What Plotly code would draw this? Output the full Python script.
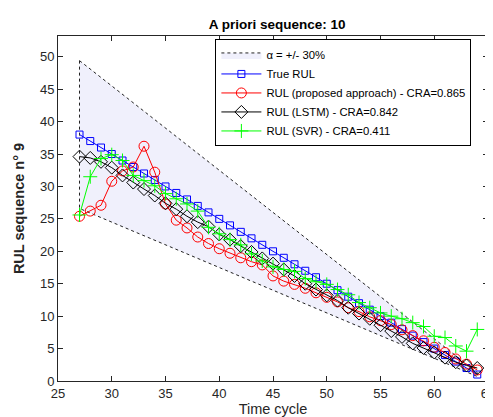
"""RUL prediction comparison for a priori sequence 10."""

import plotly.graph_objects as go

cycles = [27, 28, 29, 30, 31, 32, 33, 34, 35, 36, 37, 38, 39, 40, 41, 42, 43, 44, 45,
          46, 47, 48, 49, 50, 51, 52, 53, 54, 55, 56, 57, 58, 59, 60, 61, 62, 63, 64]

true_rul = [38, 37, 36, 35, 34, 33, 32, 31, 30, 29, 28, 27, 26, 25, 24, 23, 22, 21, 20,
            19, 18, 17, 16, 15, 14, 13, 12, 11, 10, 9, 8, 7, 6, 5, 4, 3, 2, 1]

rul_proposed = [25.4, 26.2, 27.1, 30.8, 32.4, 33.0, 36.2, 32.2, 27.3, 24.8, 23.6, 22.2, 21.2,
                20.4, 19.7, 19.0, 18.4, 17.9, 16.2, 15.4, 14.9, 14.3, 13.6, 12.9, 12.2, 11.3,
                10.7, 9.9, 9.3, 8.7, 7.9, 7.0, 6.2, 5.2, 4.4, 3.4, 2.6, 1.7]

rul_lstm = [34.6, 34.4, 33.8, 32.9, 31.7, 30.6, 29.6, 28.6, 27.4, 26.5, 25.4, 24.5, 23.8,
            22.6, 21.8, 20.8, 19.9, 18.9, 18.1, 17.2, 16.2, 15.0, 14.1, 13.2, 12.4, 11.3,
            10.4, 9.6, 8.6, 7.7, 6.8, 5.8, 5.1, 4.4, 3.6, 2.9, 2.4, 2.0]

rul_svr = [25.6, 31.5, 34.3, 34.9, 34.0, 31.7, 30.9, 30.1, 28.9, 28.1, 27.3, 26.2, 23.7,
           22.7, 21.8, 21.0, 19.6, 18.5, 17.6, 17.2, 16.9, 15.8, 15.3, 14.9, 14.1, 13.3,
           12.1, 11.3, 10.5, 10.0, 9.6, 9.0, 8.4, 6.9, 6.7, 5.4, 4.6, 7.95]

alpha = 0.3
series_names = [
    "True RUL",
    "RUL (proposed approach) - CRA=0.865",
    "RUL (LSTM) - CRA=0.842",
    "RUL (SVR) - CRA=0.411",
]

# alpha band polygon: upper edge forward, lower edge back
upper = [(1 + alpha) * v for v in true_rul]
lower = [(1 - alpha) * v for v in true_rul]
band_x = cycles + cycles[::-1] + [cycles[0]]
band_y = upper + lower[::-1] + [upper[0]]

FONT = "Liberation Sans, Arial, sans-serif"
AXIS_COLOR = "#262626"

fig = go.Figure()
fig.add_trace(go.Scatter(
    x=band_x, y=band_y, mode="lines", fill="toself",
    fillcolor="#f0f0fc", line=dict(color="#222222", width=1, dash="dot"),
    name="\u03b1 = +/- 30%",
))

styles = [
    dict(color="#0000ff", symbol="square-open", size=7),
    dict(color="#ff0000", symbol="circle-open", size=10),
    dict(color="#000000", symbol="diamond-open", size=10),
    dict(color="#00ff00", symbol="cross-thin-open", size=10),
]
for name, values, st in zip(series_names, [true_rul, rul_proposed, rul_lstm, rul_svr], styles):
    fig.add_trace(go.Scatter(
        x=cycles, y=values, mode="lines+markers", name=name,
        line=dict(color=st["color"], width=1),
        marker=dict(symbol=st["symbol"], size=st["size"], color=st["color"],
                    line=dict(color=st["color"], width=1)),
    ))

axis_common = dict(
    showgrid=False, zeroline=False, showline=True, linecolor=AXIS_COLOR, linewidth=1,
    mirror="ticks", ticks="inside", ticklen=5, tickcolor=AXIS_COLOR,
    tickfont=dict(family=FONT, size=13, color=AXIS_COLOR),
)

fig.update_layout(
    width=493, height=417,
    margin=dict(l=50, r=6, t=28, b=44),
    paper_bgcolor="white", plot_bgcolor="white",
    font=dict(family=FONT, color=AXIS_COLOR),
    title=dict(text="<b>A priori sequence: 10</b>", x=0.546, xanchor="center",
               y=0.962, yanchor="middle", font=dict(family=FONT, size=13.5, color="black")),
    xaxis=dict(range=[25, 65], dtick=5, tick0=25, ticklabeloverflow="allow",
               title=dict(text="Time cycle", standoff=0,
                          font=dict(family=FONT, size=14.5, color=AXIS_COLOR)),
               **axis_common),
    yaxis=dict(range=[0, 53.2], dtick=5, tick0=0,
               title=dict(text="<b>RUL sequence n\u00b0 9</b>", standoff=11,
                          font=dict(family=FONT, size=14.5, color=AXIS_COLOR)),
               **axis_common),
    legend=dict(x=0.366, y=0.99, xanchor="left", yanchor="top",
                bgcolor="white", bordercolor="black", borderwidth=1,
                font=dict(family=FONT, size=11.3, color="black"),
                itemwidth=40, tracegroupgap=0),
    showlegend=True,
)

fig.write_html("out.html")
